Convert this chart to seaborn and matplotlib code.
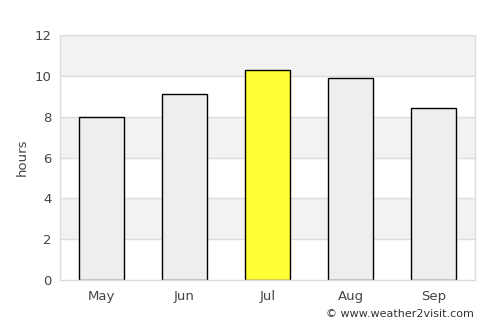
import matplotlib
matplotlib.use('Agg')
import matplotlib.pyplot as plt
import seaborn as sns
import pandas as pd

# 월별 일조 시간 데이터
months = ['May', 'Jun', 'Jul', 'Aug', 'Sep']
hours = [8.0, 9.1, 10.3, 9.9, 8.45]
highlight = 'Jul'

df = pd.DataFrame({'month': months, 'hours': hours})
colors = {m: ('#ffff33' if m == highlight else '#eeeeee') for m in months}

sns.set_style('white')
plt.rcParams['font.family'] = ['DejaVu Sans']

fig, ax = plt.subplots(figsize=(5, 3.25), dpi=100)
fig.subplots_adjust(left=0.12, right=0.95, top=0.892, bottom=0.138)

# 배경 띠 (회색/흰색 교차)
for lo in range(0, 12, 2):
    if (lo // 2) % 2 == 1:
        ax.axhspan(lo, lo + 2, color='#f2f2f2', zorder=0, lw=0)
for y in range(2, 12, 2):
    ax.axhline(y, color='#dddddd', lw=1, zorder=0.5)

sns.barplot(ax=ax, data=df, x='month', y='hours', hue='month', palette=colors,
            legend=False, width=0.54, edgecolor='black', linewidth=1,
            saturation=1, zorder=2)

ax.set_ylim(0, 12)
ax.set_xlim(-0.5, 4.5)
ax.set_yticks(range(0, 13, 2))
ax.set_xlabel('')
ax.set_ylabel('hours', color='#444444', fontsize=9.5)
ax.tick_params(axis='both', colors='#444444', labelsize=9.5, length=0)
ax.tick_params(axis='y', pad=6)
ax.tick_params(axis='x', pad=7)
for s in ax.spines.values():
    s.set_color('#dddddd')
    s.set_linewidth(1)

fig.text(0.948, 0.017, '© www.weather2visit.com', ha='right', va='bottom',
         fontsize=8, color='#333333')

plt.savefig('out.png', dpi=100)
plt.close()
